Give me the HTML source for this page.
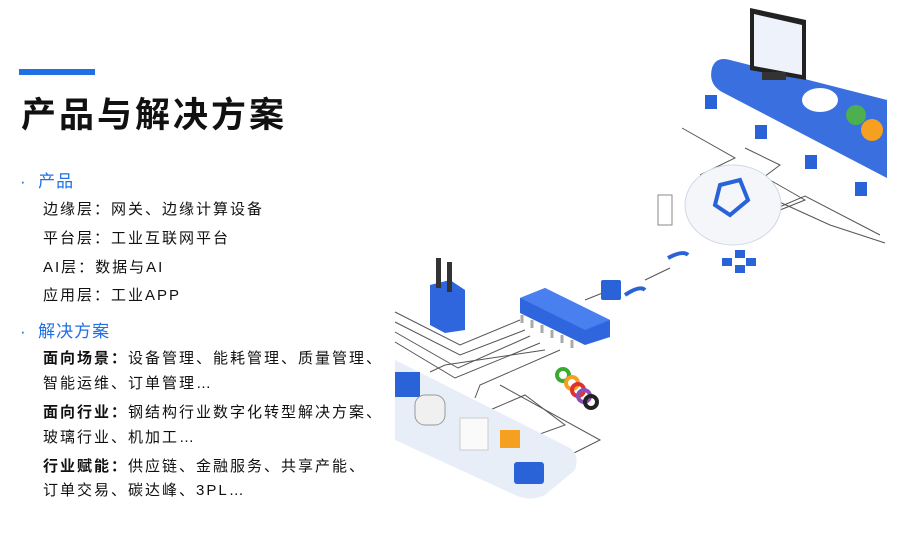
<!DOCTYPE html>
<html><head><meta charset="utf-8"><style>
body{margin:0;width:900px;height:541px;background:#fff;position:relative;overflow:hidden;font-family:"Liberation Sans","Noto Sans CJK SC",sans-serif;color:#111}
.t{position:absolute;white-space:nowrap}
.bar{position:absolute;left:19px;top:69px;width:76px;height:6px;background:#1f6fe5}
h1{position:absolute;left:21px;top:93px;margin:0;font-size:35px;letter-spacing:3px;font-weight:bold;line-height:46px}
.h{color:#1f6fe5;font-size:17px;letter-spacing:1px}
.i{font-size:15px;letter-spacing:2px;left:43px}
b{font-weight:bold}
</style></head><body>
<div class="bar"></div>
<h1>产品与解决方案</h1>
<div class="t h" style="left:20px;top:167px">·&nbsp;&nbsp;产品</div>
<div class="t i" style="top:198px">边缘层：网关、边缘计算设备</div>
<div class="t i" style="top:227px">平台层：工业互联网平台</div>
<div class="t i" style="top:256px">AI层：数据与AI</div>
<div class="t i" style="top:284px">应用层：工业APP</div>
<div class="t h" style="left:20px;top:317px">·&nbsp;&nbsp;解决方案</div>
<div class="t i" style="top:347px"><b>面向场景：</b>设备管理、能耗管理、质量管理、</div>
<div class="t i" style="top:372px">智能运维、订单管理…</div>
<div class="t i" style="top:401px"><b>面向行业：</b>钢结构行业数字化转型解决方案、</div>
<div class="t i" style="top:426px">玻璃行业、机加工…</div>
<div class="t i" style="top:455px"><b>行业赋能：</b>供应链、金融服务、共享产能、</div>
<div class="t i" style="top:479px">订单交易、碳达峰、3PL…</div>
<svg width="900" height="541" style="position:absolute;left:0;top:0">
<g fill="none" stroke="#555" stroke-width="1">
<path d="M682 128 L735 158 L700 175"/><path d="M745 148 L780 165 L760 180"/>
<path d="M770 180 L805 200 L775 212"/><path d="M775 200 L830 225 L885 243"/>
<path d="M777 208 L805 196 L880 235"/>
<path d="M395 312 L460 345 L520 320"/><path d="M395 322 L460 355 L525 330"/>
<path d="M395 332 L458 368 L530 336"/><path d="M395 342 L455 378 L540 343"/>
<path d="M430 372 L445 365 L545 350"/><path d="M475 398 L480 385 L560 350"/>
<path d="M490 410 L525 395 L565 425 L490 452"/><path d="M500 385 L600 440 L560 460"/>
<path d="M585 300 L610 290"/><path d="M645 280 L670 268"/>
</g>
<path d="M712 68 Q716 56 730 60 L887 100 L887 178 L722 92 Q708 84 712 68Z" fill="#3a6fe0"/>
<polygon points="750,8 806,20 806,80 750,70" fill="#222"/>
<polygon points="754,14 802,25 802,75 754,66" fill="#eef2fb"/>
<rect x="762" y="72" width="24" height="8" fill="#333"/>
<ellipse cx="820" cy="100" rx="18" ry="12" fill="#fff"/>
<circle cx="856" cy="115" r="10" fill="#4caf50"/><circle cx="872" cy="130" r="11" fill="#f5a020"/>
<ellipse cx="733" cy="205" rx="48" ry="40" fill="#f4f6fa" stroke="#d0d8e8"/>
<path d="M720 185 L740 180 L748 200 L730 215 L715 205Z" fill="none" stroke="#2a63d8" stroke-width="4"/>
<g fill="#2a63d8"><rect x="705" y="95" width="12" height="14"/><rect x="755" y="125" width="12" height="14"/><rect x="805" y="155" width="12" height="14"/><rect x="855" y="182" width="12" height="14"/>
<rect x="601" y="280" width="20" height="20" rx="2"/><rect x="735" y="250" width="10" height="8"/><rect x="722" y="258" width="10" height="8"/><rect x="746" y="258" width="10" height="8"/><rect x="735" y="265" width="10" height="8"/></g>
<path d="M625 295 Q640 285 645 290" stroke="#2a63d8" stroke-width="4" fill="none"/>
<path d="M668 258 Q683 250 688 255" stroke="#2a63d8" stroke-width="4" fill="none"/>
<rect x="658" y="195" width="14" height="30" fill="#fff" stroke="#888"/>
<path d="M520 298 L545 288 L610 320 L610 337 L585 345 L520 313Z" fill="#2f66dd"/>
<path d="M520 298 L545 288 L610 320 L585 330Z" fill="#4a7ff0"/>
<g stroke="#aaa" stroke-width="3"><path d="M522 315 l0 8M532 320 l0 8M542 325 l0 8M552 330 l0 8M562 335 l0 8M572 340 l0 8"/></g>
<path d="M430 285 L450 280 L465 290 L465 330 L445 333 L430 325Z" fill="#2f66dd"/>
<rect x="436" y="258" width="5" height="30" fill="#333"/><rect x="447" y="262" width="5" height="30" fill="#333"/>
<path d="M395 360 L570 448 Q580 455 575 470 L545 495 Q530 502 515 495 L395 440Z" fill="#e8eef8"/>
<rect x="395" y="372" width="25" height="25" fill="#2a63d8"/>
<rect x="415" y="395" width="30" height="30" rx="10" fill="#f0f0f0" stroke="#999"/>
<rect x="460" y="418" width="28" height="32" fill="#fafafa" stroke="#ccc"/>
<rect x="500" y="430" width="20" height="18" fill="#f5a020"/>
<rect x="514" y="462" width="30" height="22" rx="3" fill="#2a63d8"/>
<g fill="none" stroke-width="4"><circle cx="563" cy="375" r="6" stroke="#3aaa35"/><circle cx="572" cy="383" r="6" stroke="#f5a020"/><circle cx="578" cy="390" r="6" stroke="#e03030"/><circle cx="584" cy="396" r="6" stroke="#8a4fb0"/><circle cx="591" cy="402" r="6" stroke="#222"/></g>
</svg>
</body></html>
